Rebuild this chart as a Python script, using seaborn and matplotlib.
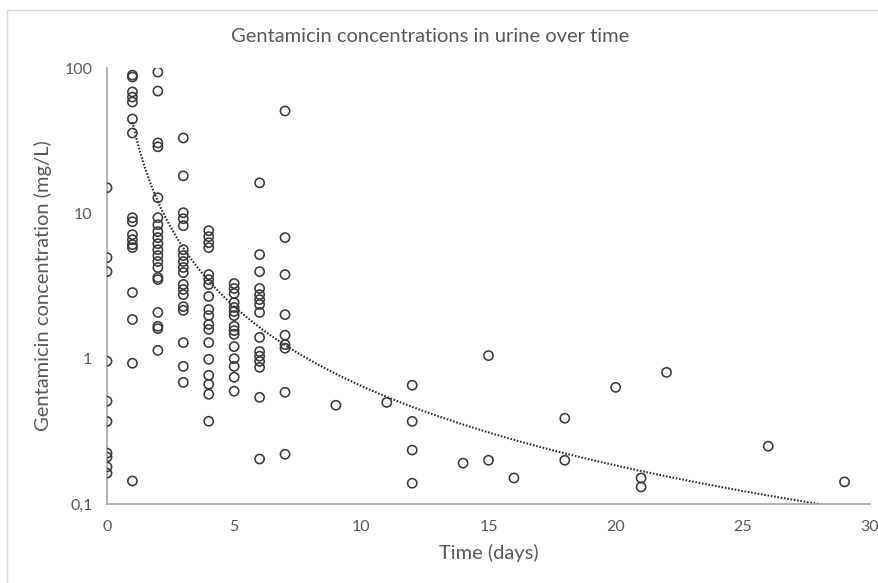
import numpy as np
import pandas as pd
import matplotlib
matplotlib.use("Agg")
import matplotlib.pyplot as plt
import seaborn as sns
from matplotlib.lines import Line2D

# ---- data ----
day0 = [15.0, 4.96, 3.97, 0.96, 0.51, 0.37, 0.224, 0.21, 0.18, 0.163]
day1 = [89.3, 86.6, 68.4, 63.1, 58.3, 44.6, 35.7, 9.33, 8.76, 7.13, 6.59, 6.09,
        5.81, 2.85, 1.86, 0.93, 0.144]
day2 = [93.7, 69.4, 30.5, 28.7, 12.8, 9.33, 8.35, 7.48, 6.81, 6.18, 5.62, 5.12,
        4.66, 4.24, 3.62, 3.50, 2.08, 1.67, 1.61, 1.14]
day3 = [33.0, 18.1, 10.1, 9.18, 8.22, 5.62, 5.12, 4.66, 4.24, 3.91, 3.24, 2.99,
        2.76, 2.28, 2.15, 1.29, 0.885, 0.687]
day4 = [7.60, 6.91, 6.28, 5.81, 3.79, 3.50, 3.24, 2.68, 2.18, 1.98, 1.72, 1.59,
        1.29, 0.99, 0.768, 0.667, 0.569, 0.371]
day5 = [3.29, 3.04, 2.81, 2.43, 2.25, 2.11, 1.98, 1.67, 1.56, 1.47, 1.21, 1.00,
        0.885, 0.745, 0.597]
day6 = [16.2, 5.20, 3.97, 3.04, 2.76, 2.55, 2.36, 2.08, 1.40, 1.12, 1.04, 0.958,
        0.871, 0.542, 0.204]
day7 = [50.6, 6.81, 3.79, 2.01, 1.45, 1.25, 1.18, 0.587, 0.220]
later_days = [9, 11, 12, 12, 12, 12, 14, 15, 15, 16, 18, 18, 20, 21, 21, 22, 26, 29]
later_conc = [0.478, 0.50, 0.656, 0.37, 0.235, 0.139, 0.191, 1.05, 0.200, 0.151,
              0.389, 0.200, 0.635, 0.151, 0.131, 0.805, 0.250, 0.142]

# power trendline parameters: y = a * t^b
trend_a = 42.6
trend_b = -1.817

x_ticks = [0, 5, 10, 15, 20, 25, 30]
y_ticks = [0.1, 1, 10, 100]
y_tick_labels = ["0,1", "1", "10", "100"]

title = "Gentamicin concentrations in urine over time"
xlabel = "Time (days)"
ylabel = "Gentamicin concentration (mg/L)"

# ---- build table ----
early = [day0, day1, day2, day3, day4, day5, day6, day7]
t_all, c_all = [], []
for d, vals in enumerate(early):
    t_all += [d] * len(vals)
    c_all += vals
t_all += later_days
c_all += later_conc
df = pd.DataFrame({"time": t_all, "conc": c_all})

tt = np.linspace(1, 30, 300)
trend = pd.DataFrame({"time": tt, "conc": trend_a * tt ** trend_b})

# ---- plot ----
sns.set_theme(style="white")
plt.rcParams["font.family"] = ["Lato", "DejaVu Sans"]
txt = "#595959"
axc = "#a6a6a6"

fig = plt.figure(figsize=(8.79, 5.83), dpi=100)
ax = fig.add_axes([107 / 879, 1 - 504 / 583, (870 - 107) / 879, (504 - 68) / 583])

sns.lineplot(data=trend, x="time", y="conc", ax=ax, color="#303030",
             linestyle=(0, (0.8, 0.8)), linewidth=1.5, zorder=2)
sns.scatterplot(data=df, x="time", y="conc", ax=ax, s=44, marker="o",
                linewidth=1.15, zorder=3)
pts = ax.collections[-1]
pts.set_facecolor("none")
pts.set_edgecolor("#3a3a3a")

ax.set_yscale("log")
ax.set_xlim(0, 30)
ax.set_ylim(0.1, 100)
ax.set_xticks(x_ticks)
ax.set_xticklabels([str(v) for v in x_ticks])
ax.set_yticks(y_ticks)
ax.set_yticklabels(y_tick_labels)
ax.yaxis.set_minor_locator(matplotlib.ticker.NullLocator())
ax.tick_params(axis="both", which="major", direction="inout", length=9,
               width=1, color=axc, labelcolor=txt, labelsize=11.5)
ax.tick_params(axis="x", pad=7)
ax.tick_params(axis="y", pad=6)
for s in ["top", "right"]:
    ax.spines[s].set_visible(False)
for s in ["left", "bottom"]:
    ax.spines[s].set_color(axc)
    ax.spines[s].set_linewidth(1.2)
ax.set_xlabel(xlabel, color=txt, fontsize=14.5, labelpad=7)
ax.set_ylabel(ylabel, color=txt, fontsize=14.5, labelpad=9)

fig.text(430 / 879, 1 - 37 / 583, title, ha="center", va="center",
         color=txt, fontsize=14.5)

# chart-area border (left and top edges visible)
fig.add_artist(Line2D([7 / 879, 7 / 879], [0, 1 - 10 / 583], transform=fig.transFigure,
                      color="#d9d9d9", linewidth=1))
fig.add_artist(Line2D([7 / 879, 1], [1 - 10 / 583, 1 - 10 / 583], transform=fig.transFigure,
                      color="#d9d9d9", linewidth=1))

fig.savefig("out.png", dpi=100, facecolor="white")
